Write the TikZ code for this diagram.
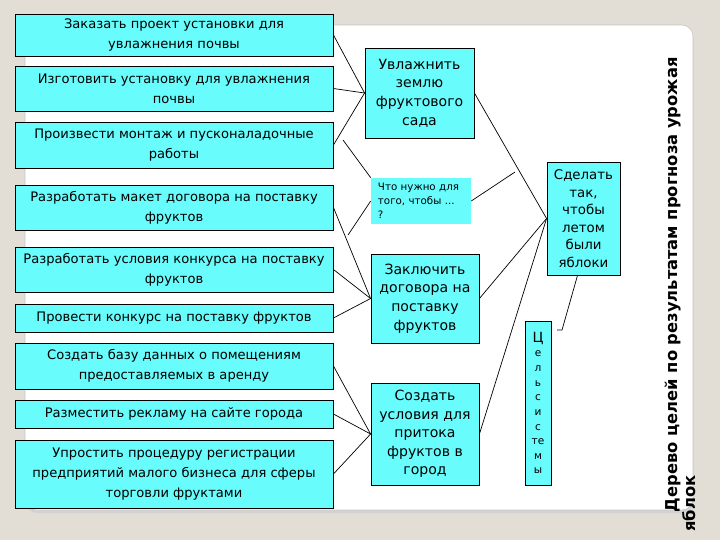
\documentclass[tikz,border=0pt]{standalone}
\usepackage{fontspec}
\setmainfont{DejaVu Sans}
\usepackage{tikz}
\usetikzlibrary{positioning}

\definecolor{boxcyan}{RGB}{104,252,252}
\definecolor{slidebg}{RGB}{226,222,214}
\definecolor{panelline}{RGB}{196,196,196}

\begin{document}
\begin{tikzpicture}[
    x=0.025cm, y=-0.025cm,
    task/.style={draw, fill=boxcyan, line width=0.6pt, minimum width=7.95cm, inner sep=0pt, align=center, font=\fontsize{9.3}{14}\selectfont},
    subgoal/.style={draw, fill=boxcyan, line width=0.6pt, minimum width=2.7cm, inner sep=0pt, align=center, font=\fontsize{10}{13.2}\selectfont},
    link/.style={draw, line width=0.5pt}
]
\useasboundingbox (0,0) rectangle (720,540);
\fill[slidebg] (0,0) rectangle (720,540);
\fill[gray!35, rounded corners=8pt] (26,28) rectangle (693.5,513);
\draw[panelline, fill=white, rounded corners=8pt] (25,25) rectangle (693,510);

\node[task, minimum height=1.05cm] (task1) at (174,35) {Заказать проект установки для\\увлажнения почвы};
\node[task, minimum height=1.125cm] (task2) at (174,88.5) {Изготовить установку для увлажнения\\почвы};
\node[task, minimum height=1.15cm] (task3) at (174,145) {Произвести монтаж и пусконаладочные\\работы};
\node[task, minimum height=1.125cm] (task4) at (174,207.5) {Разработать макет договора на поставку\\фруктов};
\node[task, minimum height=1.125cm] (task5) at (174,269.5) {Разработать условия конкурса на поставку\\фруктов};
\node[task, minimum height=0.7cm] (task6) at (174,318) {Провести конкурс на поставку фруктов};
\node[task, minimum height=1.15cm] (task7) at (174,366) {Создать базу данных о помещениям\\предоставляемых в аренду};
\node[task, minimum height=0.7cm] (task8) at (174,414) {Разместить рекламу на сайте города};
\node[task, minimum height=1.7cm] (task9) at (174,474) {Упростить процедуру регистрации\\предприятий малого бизнеса для сферы\\торговли фруктами};

\node[subgoal, minimum width=2.725cm, minimum height=2.25cm] (moisten) at (419.5,93) {Увлажнить\\землю\\фруктового\\сада};
\node[fill=boxcyan, text width=2.15cm, inner xsep=0.175cm, inner ysep=2pt, minimum height=1.15cm, align=left, font=\fontsize{7.3}{10}\selectfont] (note) at (421,201) {Что нужно для\\того, чтобы ...\\?};
\node[subgoal, minimum height=2.225cm] (contract) at (425,298.5) {Заключить\\договора на\\поставку\\фруктов};
\node[subgoal, minimum height=2.55cm] (inflow) at (425,434) {Создать\\условия для\\притока\\фруктов в\\город};
\node[subgoal, minimum width=1.825cm, minimum height=2.825cm, font=\fontsize{9.5}{12.5}\selectfont] (aim) at (583.5,218.5) {Сделать\\так,\\чтобы\\летом\\были\\яблоки};
\node[subgoal, minimum width=0.65cm, minimum height=4.1cm, font=\fontsize{7.5}{10.4}\selectfont] (system) at (538,403) {{\fontsize{10}{10.4}\selectfont Ц}\\е\\л\\ь\\с\\и\\с\\те\\м\\ы};

\node[rotate=90, anchor=north west, inner sep=0pt, align=left, font=\fontsize{11.6}{11.5}\selectfont\bfseries] (title) at (665,532) {\hspace*{14pt}Дерево целей по результатам прогноза урожая\\яблок};

\coordinate (c1) at (343,140);
\coordinate (c2) at (348,235);
\coordinate (c3) at (515,172);
\coordinate (bend) at (562,330);

\draw[link] (task1.east) -- (moisten.west);
\draw[link] (task2.east) -- (moisten.west);
\draw[link] (task3.east) -- (moisten.west);
\draw[link] (task4.east) -- (contract.west);
\draw[link] (task5.east) -- (contract.west);
\draw[link] (task6.east) -- (contract.west);
\draw[link] (task7.east) -- (inflow.west);
\draw[link] (task8.east) -- (inflow.west);
\draw[link] (task9.east) -- (inflow.west);
\draw[link] (moisten.east) -- (aim.west);
\draw[link] (contract.east) -- (aim.west);
\draw[link] (inflow.east) -- (aim.west);
\draw[link, shorten >=4pt] ([xshift=-0.15cm]aim.south) -- (bend) -- (bend -| system.east);
\draw[link] (note.north west) -- (c1);
\draw[link] (note.west) -- (c2);
\draw[link] (note.east) -- (c3);
\end{tikzpicture}
\end{document}
